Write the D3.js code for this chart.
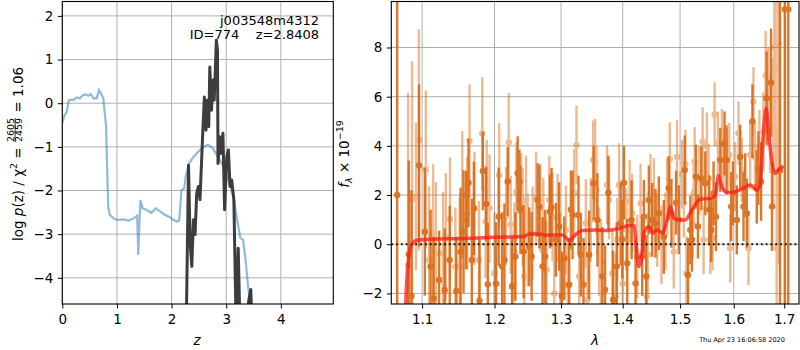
<!DOCTYPE html>
<html>
<head>
<meta charset="utf-8">
<script src="https://cdn.jsdelivr.net/npm/d3@7"></script>
<style>
  body { margin: 0; background: #fff; }
  svg { display: block; font-family: "DejaVu Sans", sans-serif; }
</style>
</head>
<body>
<div id="chartContainer"></div>
<script>
// ---- left panel: p(z) and chi2 curves ----
const pzZ = [0, 0.03, 0.08, 0.12, 0.17, 0.21, 0.26, 0.32, 0.37, 0.43, 0.48, 0.52, 0.57, 0.63, 0.67, 0.71, 0.75, 0.80, 0.82, 0.84, 0.87, 0.96, 1.02, 1.12, 1.21, 1.30, 1.35, 1.37, 1.39, 1.41, 1.43, 1.47, 1.54, 1.63, 1.71, 1.79, 1.88, 1.97, 2.03, 2.09, 2.14, 2.18, 2.23, 2.26, 2.32, 2.40, 2.49, 2.58, 2.67, 2.76, 2.85, 2.95, 3.04, 3.13, 3.20, 3.26, 3.31, 3.36, 3.40, 3.45, 3.48];
const pzLog = [-0.46, -0.31, -0.2, 0.07, 0.08, 0.07, 0.13, 0.11, 0.18, 0.2, 0.17, 0.21, 0.11, 0.11, 0.3, 0.22, 0.11, -0.5, -1.45, -2.37, -2.56, -2.66, -2.67, -2.66, -2.69, -2.64, -2.6, -2.58, -3.47, -2.83, -2.22, -2.41, -2.44, -2.51, -2.41, -2.48, -2.56, -2.61, -2.67, -2.71, -2.69, -1.99, -1.95, -1.68, -1.38, -1.23, -1.11, -1.0, -0.95, -1.04, -1.23, -1.45, -1.76, -2.14, -2.67, -3.09, -3.13, -3.66, -4.2, -4.6, -5.0];

const chiZ = [2.27, 2.31, 2.34, 2.37, 2.40, 2.43, 2.46, 2.49, 2.52, 2.56, 2.57, 2.60, 2.63, 2.65, 2.68, 2.70, 2.73, 2.76, 2.78, 2.82, 2.84, 2.85, 2.88, 2.90, 2.94, 2.97, 3.01, 3.04, 3.07, 3.10, 3.14, 3.18, 3.22, 3.25, 3.30, 3.35, 3.39, 3.41, 3.45, 3.47];
const chiVal = [-5.0, -1.42, -3.2, -3.74, -2.67, -3.01, -2.06, -1.91, -2.21, -1.0, -0.69, 0.14, -0.62, 0.07, -0.54, 0.83, -0.16, 0.53, 0.07, 1.44, 1.21, -1.38, -0.77, -1.15, -0.69, -2.44, -1.23, -1.07, -1.91, -1.76, -2.21, -5.0, -3.32, -5.0, -5.2, -5.2, -5.0, -4.54, -4.27, -5.0];

const zTicks = [0, 1, 2, 3, 4];
const logpTicks = [-4, -3, -2, -1, 0, 1, 2];

// ---- right panel: spectrum ----
const darkWave = [1.0675, 1.0825, 1.0860, 1.0960, 1.1036, 1.1113, 1.1153, 1.1227, 1.1303, 1.1371, 1.1462, 1.1521, 1.1562, 1.1599, 1.1631, 1.1677, 1.1706, 1.1786, 1.1833, 1.1881, 1.1904, 1.2024, 1.2061, 1.2110, 1.2144, 1.2192, 1.2256, 1.2305, 1.2339, 1.2365, 1.2380, 1.2428, 1.2513, 1.2548, 1.2639, 1.2665, 1.2714, 1.2756, 1.2828, 1.2852, 1.2920, 1.2971, 1.3013, 1.3050, 1.3128, 1.3155, 1.3181, 1.3275, 1.3313, 1.3355, 1.3446, 1.3520, 1.3581, 1.3662, 1.3706, 1.3761, 1.3839, 1.3900, 1.3966, 1.3993, 1.4021, 1.4077, 1.4150, 1.4218, 1.4332, 1.4361, 1.4401, 1.4447, 1.4505, 1.4563, 1.4621, 1.4709, 1.4797, 1.4845, 1.4928, 1.4976, 1.5084, 1.5144, 1.5186, 1.5216, 1.5289, 1.5325, 1.5388, 1.5461, 1.5536, 1.5573, 1.5616, 1.5660, 1.5742, 1.5823, 1.5861, 1.5950, 1.5982, 1.6058, 1.6124, 1.6188, 1.6221, 1.6252, 1.6363, 1.6448, 1.6481, 1.6534, 1.6645, 1.6733, 1.6752, 1.6914, 1.7015, 1.7083];
const darkFlux = [2.0, -0.4, -2.1, 3.2, 0.51, -0.9, -2.2, -1.45, -1.86, -0.64, -1.9, -0.3, 0.51, 0.99, 2.5, -0.64, 1.46, -2.3, 2.98, 1.64, -1.63, -1.6, 1.12, -0.9, -0.64, 2.55, -1.72, -0.5, 2.89, 2.55, 1.4, -0.3, -0.1, -0.5, 1.8, 1.53, -0.9, -0.5, 1.33, 1.5, 0.18, 0.72, -2.1, -0.57, -1.65, 1.4, 1.19, 1.19, -0.43, -1.65, -0.43, 2.48, 0.99, -1.31, -1.85, 2.1, -2.26, -0.9, 0.85, 0.2, 2.5, -0.77, 0.99, -1.59, -0.5, 1.12, -1.31, 1.8, 0.99, 0.85, 1.26, 0.3, 2.28, 1.26, 1.69, 1.0, 3.02, -1.25, 0.58, 0.18, 2.75, 0.72, 2.68, 2.48, 1.4, 0.58, 2.07, 1.12, 3.43, 4.1, 3.43, 1.53, 2.07, 0.99, 3.56, 1.53, 2.4, 1.26, 5.0, 2.34, 3.09, 2.55, 5.94, 6.57, 1.53, 3.0, 9.55, 9.55];
const darkErr = [15, 3.8, 4.3, 3.3, 2.6, 2.3, 2.5, 2.0, 2.5, 2.2, 2.2, 2.6, 2.5, 2.0, 1.8, 2.5, 1.9, 2.5, 1.6, 1.5, 2.5, 2.5, 2.0, 2.2, 2.3, 1.4, 2.0, 1.8, 1.5, 1.3, 1.8, 1.9, 1.6, 1.8, 1.5, 1.7, 2.0, 1.9, 1.5, 1.6, 1.5, 1.8, 1.8, 1.7, 1.9, 1.6, 1.8, 1.6, 1.7, 1.9, 1.8, 1.5, 1.9, 2.0, 1.8, 1.5, 2.0, 1.8, 1.7, 1.6, 1.5, 1.8, 1.6, 1.8, 1.6, 1.5, 1.7, 1.4, 1.5, 1.4, 1.5, 1.5, 1.3, 1.4, 1.3, 1.4, 1.4, 1.5, 1.4, 1.3, 1.3, 1.3, 1.3, 1.3, 1.4, 1.3, 1.3, 1.4, 1.3, 1.3, 1.4, 1.4, 1.3, 1.4, 1.3, 1.4, 1.3, 1.4, 1.5, 1.5, 1.5, 1.6, 1.9, 2.2, 1.8, 9, 12, 12];

const lightWave = [1.0816, 1.0868, 1.0920, 1.0956, 1.1049, 1.1093, 1.1147, 1.1183, 1.1281, 1.1317, 1.1375, 1.1449, 1.1507, 1.1544, 1.1613, 1.1645, 1.1715, 1.1779, 1.1825, 1.1871, 1.1889, 1.1928, 1.2000, 1.2068, 1.2168, 1.2207, 1.2236, 1.2276, 1.2291, 1.2320, 1.2391, 1.2414, 1.2439, 1.2464, 1.2488, 1.2563, 1.2614, 1.2680, 1.2725, 1.2776, 1.2817, 1.2868, 1.2894, 1.2945, 1.2987, 1.3076, 1.3102, 1.3207, 1.3243, 1.3286, 1.3393, 1.3420, 1.3473, 1.3511, 1.3543, 1.3565, 1.3608, 1.3636, 1.3739, 1.3772, 1.3827, 1.3883, 1.3910, 1.3938, 1.4000, 1.4060, 1.4117, 1.4161, 1.4246, 1.4304, 1.4413, 1.4430, 1.4476, 1.4534, 1.4592, 1.4668, 1.4738, 1.4767, 1.4815, 1.4886, 1.4945, 1.5036, 1.5066, 1.5096, 1.5114, 1.5229, 1.5247, 1.5265, 1.5351, 1.5412, 1.5430, 1.5492, 1.5523, 1.5554, 1.5597, 1.5635, 1.5697, 1.5773, 1.5804, 1.5886, 1.5912, 1.5931, 1.6027, 1.6091, 1.6156, 1.6285, 1.6318, 1.6383, 1.6415, 1.6501, 1.6580, 1.6625, 1.6679, 1.6713, 1.6780, 1.6800, 1.6826, 1.6846, 1.6880];
const lightFlux = [-0.84, 1.84, 1.94, 4.24, 3.05, -0.64, 0.45, -0.37, -0.37, 0.3, 1.03, -0.9, -0.9, 2.0, 1.26, 4.2, 1.46, -0.64, 4.5, 0.92, 2.24, 1.46, -1.18, 2.82, 1.15, 4.15, 0.79, -1.6, -0.3, 2.14, 1.8, 1.1, -1.31, 1.8, 0.18, 0.45, 1.87, 1.46, 0.79, -1.04, 1.8, 1.12, -2.0, 1.06, -0.64, 0.58, -1.65, 2.07, 4.04, -1.31, 0.85, -2.26, 0.99, 3.43, 3.39, 2.2, -0.3, -0.77, 2.41, 1.8, -1.18, -2.13, 0.18, 2.41, -1.6, 0.6, 1.73, 1.26, -0.5, 1.67, -2.13, -0.43, 2.07, 2.0, 0.58, -0.03, 0.45, 2.0, 3.46, -0.3, 3.56, 2.85, 1.67, 3.25, -1.18, 0.85, 2.07, 3.36, 2.6, 4.17, 0.18, 3.97, 2.68, 0.18, 0.25, 5.28, 4.1, 4.1, 3.43, 3.43, 3.63, -0.16, 2.75, 4.51, 3.02, -0.16, 3.63, 5.8, 3.56, 3.97, 4.58, 6.87, 6.0, 4.9, 4.58, 8.0, 7.2, -0.16, 8.17];
const lightErr = [7.0, 5.6, 3.0, 4.5, 3.2, 3.0, 2.8, 2.9, 2.5, 2.6, 2.5, 2.4, 2.8, 2.6, 2.3, 2.3, 2.3, 2.4, 2.3, 2.3, 2.0, 2.2, 2.5, 2.1, 2.0, 2.0, 2.0, 2.2, 2.0, 2.0, 1.9, 2.0, 2.0, 1.8, 1.9, 1.9, 1.9, 1.8, 1.9, 2.0, 1.8, 1.8, 2.0, 1.8, 1.9, 1.8, 1.9, 1.8, 1.6, 1.9, 1.8, 1.9, 1.7, 1.6, 1.7, 1.8, 1.8, 1.8, 1.6, 1.6, 1.8, 1.8, 1.7, 1.7, 1.8, 1.7, 1.7, 1.6, 1.7, 1.6, 1.7, 1.7, 1.6, 1.5, 1.5, 1.6, 1.5, 1.5, 1.5, 1.5, 1.5, 1.4, 1.4, 1.4, 1.5, 1.4, 1.4, 1.4, 1.4, 1.4, 1.4, 1.4, 1.4, 1.4, 1.3, 1.3, 1.3, 1.4, 1.3, 1.3, 1.3, 1.4, 1.4, 1.3, 1.3, 1.5, 1.4, 1.4, 1.4, 1.5, 1.6, 1.8, 2.0, 2.0, 3.0, 3.5, 4.0, 5.0, 9.0];

const modelWave = [1.0775, 1.0786, 1.0816, 1.0861, 1.0926, 1.1102, 1.1556, 1.1980, 1.2421, 1.2513, 1.2665, 1.2766, 1.2920, 1.3023, 1.3086, 1.3139, 1.3207, 1.3339, 1.3554, 1.3718, 1.3938, 1.4105, 1.4190, 1.4229, 1.4275, 1.4314, 1.4361, 1.4447, 1.4517, 1.4592, 1.4679, 1.4767, 1.4827, 1.4886, 1.5006, 1.5096, 1.5216, 1.5369, 1.5554, 1.5648, 1.5710, 1.5773, 1.5867, 1.6027, 1.6188, 1.6318, 1.6448, 1.6514, 1.6580, 1.6634, 1.6679, 1.6746, 1.6814, 1.6880, 1.6982];
const modelFlux = [-4.0, -2.43, -0.77, -0.03, 0.15, 0.2, 0.23, 0.28, 0.31, 0.42, 0.42, 0.37, 0.38, 0.38, 0.24, 0.15, 0.34, 0.56, 0.58, 0.56, 0.64, 0.76, 0.77, -0.09, -0.91, -0.64, 0.45, 0.72, 0.45, 0.58, 0.45, 0.99, 1.53, 1.06, 0.99, 0.99, 1.4, 1.83, 1.87, 2.0, 2.78, 2.34, 2.1, 2.14, 2.28, 2.41, 2.2, 2.41, 4.51, 5.53, 4.65, 3.43, 2.89, 3.02, 3.18];

const lamTicks = [1.1, 1.2, 1.3, 1.4, 1.5, 1.6, 1.7];
const fluxTicks = [-2, 0, 2, 4, 6, 8];

function createChart(container) {
    const width = 800;
    const height = 350;
    const fs = 13.5;
    const gridColor = "#b0b0b0";

    // attach first, so text can be measured
    const svg = d3.select(container).append("svg")
        .attr("width", width)
        .attr("height", height)
        .attr("viewBox", [0, 0, width, height]);

    // Panel boxes
    const L = { left: 62.3, right: 333.3, top: 1.5, bottom: 304 };
    const R = { left: 391.3, right: 799, top: 1.5, bottom: 304 };

    const xz = d3.scaleLinear().domain([0, 4.96]).range([L.left, L.right]);
    const yp = d3.scaleLinear().domain([-4.6, 2.33]).range([L.bottom, L.top]);
    const xl = d3.scaleLog().domain([1.06, 1.7305]).range([R.left, R.right]);
    const yf = d3.scaleLinear().domain([-2.43, 9.87]).range([R.bottom, R.top]);

    const defs = svg.append("defs");
    defs.append("clipPath").attr("id", "clipL").append("rect")
        .attr("x", L.left).attr("y", L.top).attr("width", L.right - L.left).attr("height", L.bottom - L.top);
    defs.append("clipPath").attr("id", "clipR").append("rect")
        .attr("x", R.left).attr("y", R.top).attr("width", R.right - R.left).attr("height", R.bottom - R.top);

    // Grid lines
    const grid = (P, xs, xt, ys, yt) => {
        const g = svg.append("g").attr("stroke", gridColor).attr("stroke-width", 1);
        g.selectAll(".gx").data(xt).join("line")
            .attr("x1", d => xs(d)).attr("x2", d => xs(d))
            .attr("y1", P.top).attr("y2", P.bottom);
        g.selectAll(".gy").data(yt).join("line")
            .attr("y1", d => ys(d)).attr("y2", d => ys(d))
            .attr("x1", P.left).attr("x2", P.right);
    };
    grid(L, xz, zTicks, yp, logpTicks);
    grid(R, xl, lamTicks, yf, fluxTicks);

    // Left panel curves
    const gl = svg.append("g").attr("clip-path", "url(#clipL)");
    const pzData = pzZ.map((z, i) => [z, pzLog[i]]);
    const chiData = chiZ.map((z, i) => [z, chiVal[i]]);
    const lineL = d3.line().x(d => xz(d[0])).y(d => yp(d[1]));
    gl.append("path").datum(pzData)
        .attr("d", lineL)
        .attr("fill", "none")
        .attr("stroke", "#1f77b4").attr("stroke-opacity", 0.5)
        .attr("stroke-width", 2.2);
    gl.append("path").datum(chiData)
        .attr("d", lineL)
        .attr("fill", "none")
        .attr("stroke", "#333333").attr("stroke-opacity", 0.95)
        .attr("stroke-width", 3)
        .attr("stroke-linejoin", "round");

    // Right panel spectrum
    const gr = svg.append("g").attr("clip-path", "url(#clipR)");
    const orange = "#d8660f";
    const drawSeries = (wave, flux, err, opacity) => {
        const data = wave.map((w, i) => ({ w: w, f: flux[i], e: err[i] }));
        const g = gr.append("g").attr("opacity", opacity);
        g.selectAll("line").data(data).join("line")
            .attr("x1", d => xl(d.w)).attr("x2", d => xl(d.w))
            .attr("y1", d => yf(d.f - d.e)).attr("y2", d => yf(d.f + d.e))
            .attr("stroke", orange).attr("stroke-width", 2.4);
        g.selectAll("circle").data(data).join("circle")
            .attr("cx", d => xl(d.w)).attr("cy", d => yf(d.f))
            .attr("r", 3.2).attr("fill", orange);
    };
    drawSeries(lightWave, lightFlux, lightErr, 0.45);
    drawSeries(darkWave, darkFlux, darkErr, 0.88);

    gr.append("line")
        .attr("x1", R.left).attr("x2", R.right)
        .attr("y1", yf(0)).attr("y2", yf(0))
        .attr("stroke", "#111").attr("stroke-width", 1.8)
        .attr("stroke-dasharray", "1.8,3");

    const modelData = modelWave.map((w, i) => [w, modelFlux[i]]);
    gr.append("path").datum(modelData)
        .attr("d", d3.line().x(d => xl(d[0])).y(d => yf(d[1])).curve(d3.curveMonotoneX))
        .attr("fill", "none")
        .attr("stroke", "#ff1a1a").attr("stroke-opacity", 0.75)
        .attr("stroke-width", 3.5)
        .attr("stroke-linejoin", "round");

    // Axes
    const styleAxis = g => g
        .attr("font-size", fs)
        .attr("font-family", "DejaVu Sans, sans-serif")
        .call(g => g.select(".domain").remove())
        .call(g => g.selectAll("text").attr("fill", "#000"))
        .call(g => g.selectAll(".tick line").attr("stroke", "#000").attr("stroke-width", 1));

    svg.append("g")
        .attr("transform", `translate(0,${L.bottom})`)
        .call(d3.axisBottom(xz).tickValues(zTicks).tickFormat(d3.format("d")).tickSize(4.5).tickPadding(5.5))
        .call(styleAxis);
    svg.append("g")
        .attr("transform", `translate(${L.left},0)`)
        .call(d3.axisLeft(yp).tickValues(logpTicks).tickFormat(d3.format("d")).tickSize(4.5).tickPadding(4.5))
        .call(styleAxis);
    svg.append("g")
        .attr("transform", `translate(0,${R.bottom})`)
        .call(d3.axisBottom(xl).tickValues(lamTicks).tickFormat(d3.format(".1f")).tickSize(4.5).tickPadding(5.5))
        .call(styleAxis);
    svg.append("g")
        .attr("transform", `translate(${R.left},0)`)
        .call(d3.axisLeft(yf).tickValues(fluxTicks).tickFormat(d3.format("d")).tickSize(4.5).tickPadding(4.5))
        .call(styleAxis);

    // Frames
    [L, R].forEach(P => {
        svg.append("rect")
            .attr("x", P.left).attr("y", P.top)
            .attr("width", P.right - P.left).attr("height", P.bottom - P.top)
            .attr("fill", "none").attr("stroke", "#000").attr("stroke-width", 1.1);
    });

    // Annotation in left panel
    svg.append("text")
        .attr("x", 319).attr("y", 24.5)
        .attr("text-anchor", "end").attr("font-size", 13)
        .text("j003548m4312");
    svg.append("text")
        .attr("x", 319).attr("y", 39)
        .attr("text-anchor", "end").attr("font-size", 13)
        .style("white-space", "pre")
        .text("ID=774    z=2.8408");

    // X axis titles
    svg.append("text")
        .attr("x", 197).attr("y", 345)
        .attr("text-anchor", "middle").attr("font-size", fs).attr("font-style", "italic")
        .text("z");
    svg.append("text")
        .attr("x", 595).attr("y", 345)
        .attr("text-anchor", "middle").attr("font-size", fs).attr("font-style", "italic")
        .text("λ");

    // Left y label:  log p(z) / χ² = 2605/2459 = 1.06
    const yl = svg.append("g").attr("transform", "translate(22.5,0) rotate(-90)");
    const inner = yl.append("g");
    const t1 = inner.append("text").attr("font-size", fs);
    t1.append("tspan").text("log ");
    t1.append("tspan").attr("font-style", "italic").text("p");
    t1.append("tspan").text("(z) / χ");
    t1.append("tspan").attr("font-size", 9.5).attr("dy", -6).text("2");
    t1.append("tspan").attr("dy", 6).style("white-space", "pre").text(" = ");
    const w1 = t1.node().getComputedTextLength() + 1;
    const num = inner.append("text").attr("font-size", 9.5).attr("x", w1).attr("y", -8.2).text("2605");
    const den = inner.append("text").attr("font-size", 9.5).attr("x", w1).attr("y", -0.5).text("2459");
    const fw = Math.max(num.node().getComputedTextLength(), den.node().getComputedTextLength());
    inner.append("line")
        .attr("x1", w1).attr("x2", w1 + fw)
        .attr("y1", -7.4).attr("y2", -7.4)
        .attr("stroke", "#000").attr("stroke-width", 0.8);
    const t2 = inner.append("text").attr("font-size", fs).attr("x", w1 + fw + 1)
        .style("white-space", "pre").text(" = 1.06");
    const total = w1 + fw + 1 + t2.node().getComputedTextLength();
    inner.attr("transform", `translate(${-154 - total / 2},0)`);

    // Right y label:  f_λ × 10^-19
    const yr = svg.append("g").attr("transform", "translate(349,0) rotate(-90)");
    const t3 = yr.append("text").attr("font-size", fs);
    t3.append("tspan").attr("font-style", "italic").text("f");
    t3.append("tspan").attr("font-size", 9.5).attr("font-style", "italic").attr("dy", 3).text("λ");
    t3.append("tspan").attr("dy", -3).style("white-space", "pre").text(" × 10");
    t3.append("tspan").attr("font-size", 9.5).attr("dy", -6).text("−19");
    const w3 = t3.node().getComputedTextLength();
    t3.attr("x", -154 - w3 / 2);

    // Timestamp
    svg.append("text")
        .attr("x", 742).attr("y", 342)
        .attr("text-anchor", "middle").attr("font-size", 6.5)
        .text("Thu Apr 23 16:06:58 2020");

    return svg.node();
}

createChart(document.getElementById("chartContainer"));
</script>
</body>
</html>
